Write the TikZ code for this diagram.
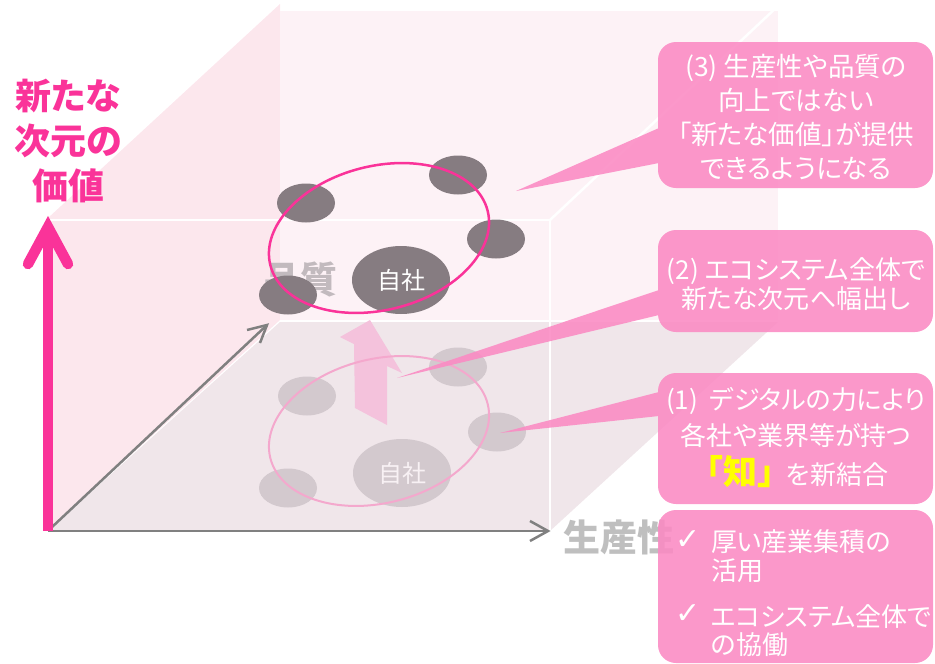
\documentclass[tikz,border=0pt]{standalone}
\usepackage{fontspec}
\newfontfamily\jp{Noto Sans CJK JP}[RawFeature=+palt]
\newfontfamily\jpn{Noto Sans CJK JP}
\newfontfamily\dv{DejaVu Sans}
\usetikzlibrary{shapes.geometric}
\definecolor{hotpink}{HTML}{FA3399}
\definecolor{cpink}{RGB}{251,138,195}
\definecolor{leftface}{HTML}{FCE7ED}
\definecolor{backface}{HTML}{FDF2F6}
\definecolor{floorc}{HTML}{F0E6EA}
\definecolor{dgray}{HTML}{867C81}
\definecolor{lgray}{HTML}{D3C9CE}
\definecolor{axisgray}{HTML}{808080}
\definecolor{labelgray}{HTML}{BFBFBF}
\definecolor{qualgray}{HTML}{C2BABE}
\definecolor{lpink}{HTML}{F4A8CD}
\definecolor{arrowpink}{HTML}{F4C2DC}
\definecolor{selfwhite}{HTML}{F8F1F4}
\definecolor{knoyellow}{HTML}{FFFF00}
\begin{document}
\begin{tikzpicture}[x=1pt,y=-1pt,
  firm/.style={ellipse, fill=dgray, minimum width=58pt, minimum height=39pt, inner sep=0pt},
  firml/.style={ellipse, fill=lgray, minimum width=58pt, minimum height=39pt, inner sep=0pt},
  selfu/.style={ellipse, fill=dgray, minimum width=98pt, minimum height=68pt, inner sep=0pt,
    text=white, font=\jpn\fontsize{24}{24}\selectfont},
  selfl/.style={ellipse, fill=lgray, minimum width=98pt, minimum height=68pt, inner sep=0pt,
    text=selfwhite, font=\jpn\fontsize{24}{24}\selectfont},
  ring/.style={ellipse, minimum width=224pt, minimum height=144pt, inner sep=0pt, rotate=14},
  box/.style={fill=cpink, rounded corners=18pt, minimum width=275pt, inner sep=0pt},
  ctext/.style={text=white, align=center, inner sep=0pt},
  axlabel/.style={font=\jp\bfseries\fontsize{37}{37}\selectfont, inner sep=0pt},
  edge/.style={white, line width=2.5pt},
  gaxis/.style={axisgray, line width=2.5pt},
  chk/.style={text=white, inner sep=0pt, font=\dv\fontsize{30}{30}\selectfont},
]
\useasboundingbox (0,0) rectangle (935,664);

% faces of the cube
\fill[leftface] (48,530) -- (48,218) -- (280,4) -- (280,320) -- cycle;
\fill[backface] (280,11) rectangle (778,320);
\fill[floorc] (48,531) -- (280,322) -- (778,322) -- (550,531) -- cycle;
\draw[edge] (48,220) -- (550,220) -- (550,531);
\draw[edge] (550,220) -- (778,6);

% upward block arrow
\fill[arrowpink] (370,320) -- (340,337) -- (354,344) -- (355,408) -- (387,425) -- (387,366) -- (402,373) -- cycle;

% lower cluster
\node[firml] (l1) at (307,396) {};
\node[firml] (l2) at (458,367) {};
\node[firml] (l3) at (497,432) {};
\node[firml] (l4) at (288,488) {};
\node[selfl] (lself) at (402,473) {自社};
\node[ring, draw=lpink, line width=2pt] (ringL) at (379,431) {};

% axes
\coordinate (O) at (48,531);
\coordinate (vtip) at (48,227);
\coordinate (xend) at (548,531);
\coordinate (dstart) at (51,528);
\coordinate (dend) at (267,325);
\draw[gaxis] (O) -- (xend);
\draw[gaxis] (xend) ++(-18,-10) -- (xend) -- ++(-18,10);
\draw[gaxis] (dstart) -- (dend);
\draw[gaxis] (dend) ++(-20,5) -- (dend) -- ++(-7,18);
\draw[hotpink, line width=10.5pt] (O) -- (vtip);
\draw[hotpink, line width=10.5pt, line cap=round] (vtip) ++(-20,37) -- (vtip) -- ++(20,37);

% axis labels
\node[font=\jp\bfseries\fontsize{36}{45}\selectfont, text=hotpink, align=center, inner sep=0pt] (title) at (68,141) {新たな\\次元の\\価値};
\node[axlabel, text=qualgray] (qual) at (300,280) {品質};
\node[axlabel, text=labelgray] (prod) at (619,537) {生産性};

% upper cluster
\node[firm] (u1) at (306,203) {};
\node[firm] (u2) at (458,175) {};
\node[firm] (u3) at (496,239) {};
\node[firm] (u4) at (288,295) {};
\node[selfu] (uself) at (401,280) {自社};
\node[ring, draw=hotpink, line width=2.5pt] (ringU) at (379,238) {};

% callout (3)
\begin{scope}[transparency group, opacity=0.88]
\node[box, minimum height=146pt] (c3) at (795.5,115) {};
\coordinate (t3a) at (659,128);
\coordinate (t3b) at (659,163);
\coordinate (t3tip) at (516,191);
\fill[cpink] (t3a) -- (t3tip) -- (t3b) -- cycle;
\end{scope}
\node[ctext, font=\jp\fontsize{26.5}{34}\selectfont] (c3t) at (796,117) {(3) 生産性や品質の\\向上ではない\\「新たな価値」が提供\\できるようになる};

% callout (2)
\begin{scope}[transparency group, opacity=0.88]
\node[box, minimum height=102pt] (c2) at (795.5,281) {};
\coordinate (t2a) at (659,290);
\coordinate (t2b) at (659,315);
\coordinate (t2tip) at (397,378);
\fill[cpink] (t2a) -- (t2tip) -- (t2b) -- cycle;
\end{scope}
\node[ctext, font=\jp\fontsize{26}{29}\selectfont] (c2t) at (796,284) {(2) エコシステム全体で\\新たな次元へ幅出し};

% callout (1)
\begin{scope}[transparency group, opacity=0.88]
\node[box, minimum height=131pt] (c1) at (795.5,438.5) {};
\coordinate (t1a) at (659,392);
\coordinate (t1b) at (659,416);
\coordinate (t1tip) at (500,433);
\fill[cpink] (t1a) -- (t1tip) -- (t1b) -- cycle;
\end{scope}
\node[ctext, font=\jp\fontsize{26}{36}\selectfont] (c1t) at (796,418) {(1)\ \ デジタルの力により\\各社や業界等が持つ};
\node[ctext, font=\jpn\bfseries\fontsize{34}{34}\selectfont, text=knoyellow] (kno) at (740,472) {「知」};
\node[ctext, font=\jp\fontsize{26}{26}\selectfont] (newc) at (837,475) {を新結合};

% box (4)
\begin{scope}[transparency group, opacity=0.88]
\node[box, minimum height=153pt] (c4) at (795.5,586.5) {};
\end{scope}
\node[chk] (chk1) at (688,540) {✓};
\node[chk] (chk2) at (688,614) {✓};
\node[ctext, anchor=west, font=\jp\fontsize{26}{26}\selectfont] (b1) at (711,542) {厚い産業集積の};
\node[ctext, anchor=west, font=\jp\fontsize{26}{26}\selectfont] (b2) at (711,571) {活用};
\node[ctext, anchor=west, font=\jp\fontsize{26}{26}\selectfont] (b3) at (711,617) {エコシステム全体で};
\node[ctext, anchor=west, font=\jp\fontsize{26}{26}\selectfont] (b4) at (711,645) {の協働};
\end{tikzpicture}
\end{document}
